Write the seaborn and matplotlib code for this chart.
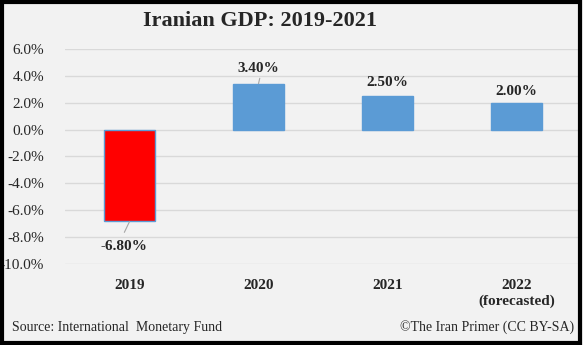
import matplotlib
matplotlib.use("Agg")
import matplotlib.pyplot as plt
import seaborn as sns
import pandas as pd
from matplotlib.patches import Rectangle

years = ["2019", "2020", "2021", "2022\n(forecasted)"]
growth = [-6.8, 3.4, 2.5, 2.0]
labels = ["-6.80%", "3.40%", "2.50%", "2.00%"]
yticks = [6, 4, 2, 0, -2, -4, -6, -8, -10]

sns.set_theme(style="white")
plt.rcParams['font.family'] = ['Liberation Serif', 'DejaVu Serif']

df = pd.DataFrame({"year": years, "growth": growth})
fig = plt.figure(figsize=(5.83, 3.45), dpi=100, facecolor="#f2f2f2")
ax = fig.add_axes([0.1115, 0.235, 0.885, 0.623])
ax.set_facecolor("#f2f2f2")

colors = ["#ff0000", "#5b9bd5", "#5b9bd5", "#5b9bd5"]
sns.barplot(data=df, x="year", y="growth", hue="year", palette=colors,
            legend=False, width=0.4, saturation=1, ax=ax,
            edgecolor="#5b9bd5", linewidth=1)

ax.set_ylim(-10, 6)
ax.set_yticks(yticks)
ax.set_yticklabels([f"{v:.1f}%" for v in yticks], fontsize=11)
ax.yaxis.grid(True, color="#d9d9d9", linewidth=1)
ax.set_axisbelow(True)
for s in ax.spines.values():
    s.set_visible(False)
ax.tick_params(axis="y", length=0, pad=15)
ax.tick_params(axis="x", length=0, pad=11)
for t in ax.get_xticklabels():
    t.set_fontweight("bold")
    t.set_fontsize(11)
ax.set_xlabel("")
ax.set_ylabel("")

# data labels with leader lines
label_x = [-0.04, 0.0, 0.0, 0.0]
offsets = [-1.9, 1.15, 1.0, 0.83]
for i, (v, lab, off, lx) in enumerate(zip(growth, labels, offsets, label_x)):
    ty = v + off
    ax.text(i + lx, ty, lab, ha="center", va="center", fontsize=11, fontweight="bold")
ax.plot([-0.04, 0.0], [-7.65, -6.85], color="#a6a6a6", lw=0.8)
ax.plot([1.01, 1.0], [3.82, 3.42], color="#a6a6a6", lw=0.8)

ax.set_xlim(-0.5, 3.5)

fig.text(0.446, 0.94, "Iranian GDP: 2019-2021", ha="center", va="center",
         fontsize=16, fontweight="bold")
fig.text(0.02, 0.052, "Source: International  Monetary Fund", ha="left", va="center", fontsize=10)
fig.text(0.985, 0.052, "©The Iran Primer (CC BY-SA)", ha="right", va="center", fontsize=10)

fig.patches.append(Rectangle((0.003, 0.005), 0.992, 0.99, transform=fig.transFigure,
                             fill=False, edgecolor="black", linewidth=3))

fig.savefig("out.png", dpi=100, facecolor=fig.get_facecolor())
